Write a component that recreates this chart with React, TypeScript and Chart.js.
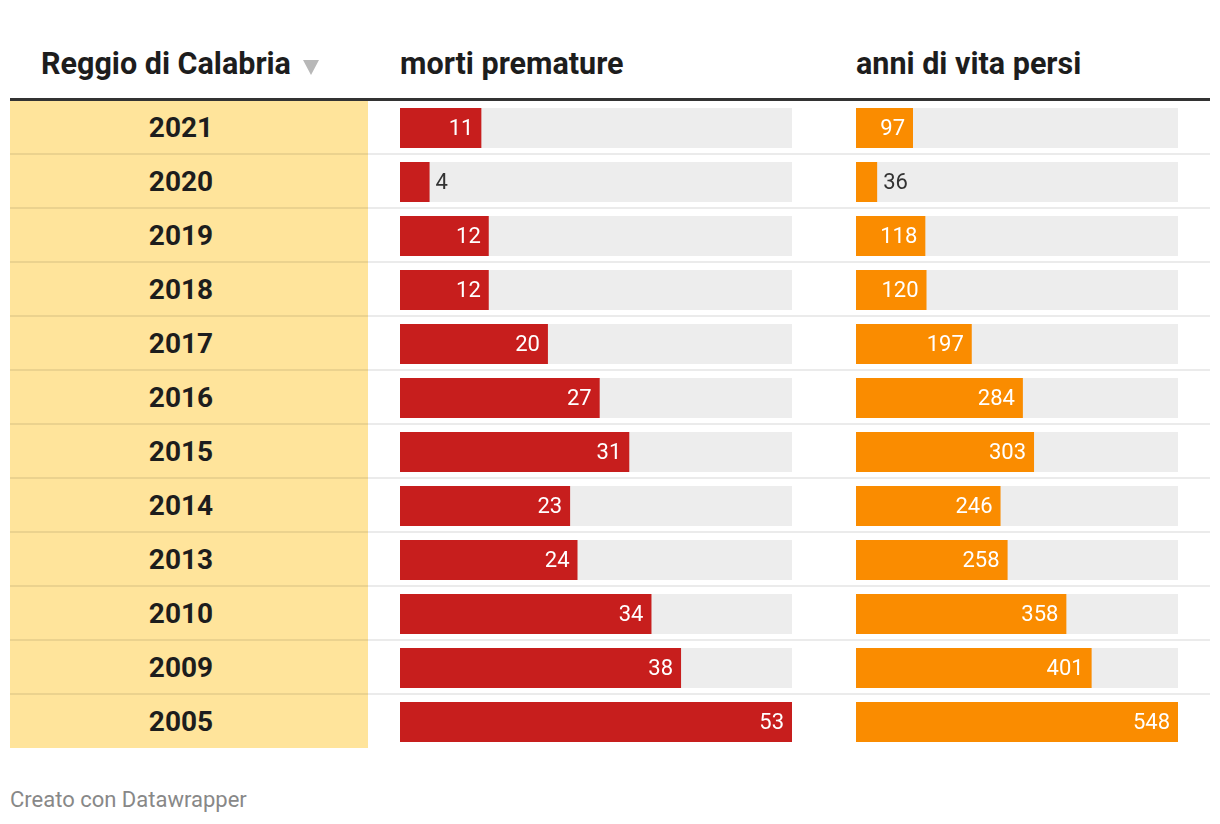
import React, { useEffect, useRef } from "react";
import { Chart, registerables } from "chart.js";

Chart.register(...registerables);

const years = ["2021", "2020", "2019", "2018", "2017", "2016", "2015", "2014", "2013", "2010", "2009", "2005"];
const mortiPremature = [11, 4, 12, 12, 20, 27, 31, 23, 24, 34, 38, 53];
const anniVitaPersi = [97, 36, 118, 120, 197, 284, 303, 246, 258, 358, 401, 548];

const headerRegion = "Reggio di Calabria";
const headerMorti = "morti premature";
const headerAnni = "anni di vita persi";
const footerText = "Creato con Datawrapper";

const RED = "#c71e1d";
const ORANGE = "#fa8c00";
const TRACK = "#ededed";
const FONT = "Roboto, 'Noto Sans', sans-serif";

const ROW_H = 54;
const TABLE_TOP = 101;

const labelPlugin = {
  id: "valueLabels",
  afterDatasetsDraw(chart: any) {
    const ctx = chart.ctx;
    const meta = chart.getDatasetMeta(1);
    const data = chart.data.datasets[1].data as number[];
    const left = chart.chartArea.left;
    ctx.save();
    ctx.font = `22px ${FONT}`;
    ctx.textBaseline = "middle";
    meta.data.forEach((bar: any, i: number) => {
      const txt = String(data[i]);
      const w = ctx.measureText(txt).width;
      const barW = bar.x - left;
      if (barW >= w + 20) {
        ctx.fillStyle = "#ffffff";
        ctx.textAlign = "right";
        ctx.fillText(txt, bar.x - 8, bar.y + 1);
      } else {
        ctx.fillStyle = "#333333";
        ctx.textAlign = "left";
        ctx.fillText(txt, bar.x + 6, bar.y + 1);
      }
    });
    ctx.restore();
  },
};

function BarColumn({ values, color, width, left }: { values: number[]; color: string; width: number; left: number }) {
  const ref = useRef<HTMLCanvasElement>(null);
  useEffect(() => {
    if (!ref.current) return;
    const max = Math.max(...values);
    const chart = new Chart(ref.current, {
      type: "bar",
      data: {
        labels: years,
        datasets: [
          {
            data: years.map(() => max),
            backgroundColor: TRACK,
            grouped: false,
            order: 2,
            barPercentage: 40 / 54,
            categoryPercentage: 1,
          } as any,
          {
            data: values,
            backgroundColor: color,
            grouped: false,
            order: 1,
            barPercentage: 40 / 54,
            categoryPercentage: 1,
          } as any,
        ],
      },
      options: {
        indexAxis: "y",
        responsive: false,
        maintainAspectRatio: false,
        animation: false,
        devicePixelRatio: 1,
        layout: { padding: 0 },
        events: [],
        scales: {
          x: { display: false, min: 0, max },
          y: { display: false },
        },
        plugins: { legend: { display: false }, tooltip: { enabled: false } },
      },
      plugins: [labelPlugin],
    });
    return () => chart.destroy();
  }, []);
  return (
    <canvas
      ref={ref}
      width={width}
      height={ROW_H * years.length}
      style={{ position: "absolute", left, top: TABLE_TOP, width, height: ROW_H * years.length }}
    />
  );
}

export default function App() {
  const headerStyle: React.CSSProperties = {
    position: "absolute",
    top: 44,
    height: 40,
    lineHeight: "40px",
    fontFamily: FONT,
    fontWeight: 700,
    fontSize: 30.5,
    color: "#1d1d1d",
    whiteSpace: "nowrap",
  };
  return (
    <div style={{ position: "absolute", left: 0, top: 0, width: 1220, height: 824, background: "#fff", overflow: "hidden" }}>
      <div style={{ ...headerStyle, left: 41 }}>
        {headerRegion}
        <span
          style={{
            display: "inline-block",
            width: 0,
            height: 0,
            marginLeft: 12,
            borderLeft: "8px solid transparent",
            borderRight: "8px solid transparent",
            borderTop: "15px solid #b8b8b8",
            verticalAlign: "-1px",
          }}
        />
      </div>
      <div style={{ ...headerStyle, left: 400 }}>{headerMorti}</div>
      <div style={{ ...headerStyle, left: 856 }}>{headerAnni}</div>
      <div style={{ position: "absolute", left: 10, top: 98, width: 1200, height: 3, background: "#333" }} />
      <div style={{ position: "absolute", left: 10, top: TABLE_TOP, width: 358, height: ROW_H * years.length - 1, background: "#ffe49b" }} />
      {years.map((y, i) => (
        <div
          key={y}
          style={{
            position: "absolute",
            left: 10,
            width: 342,
            top: TABLE_TOP + i * ROW_H,
            height: ROW_H,
            lineHeight: ROW_H + "px",
            textAlign: "center",
            fontFamily: FONT,
            fontWeight: 700,
            fontSize: 28,
            color: "#1d1d1d",
          }}
        >
          {y}
        </div>
      ))}
      {years.slice(0, -1).map((y, i) => (
        <div
          key={"sep" + y}
          style={{
            position: "absolute",
            left: 10,
            width: 1200,
            top: TABLE_TOP + (i + 1) * ROW_H - 2,
            height: 2,
            background: "rgba(0,0,0,0.08)",
          }}
        />
      ))}
      <BarColumn values={mortiPremature} color={RED} width={392} left={400} />
      <BarColumn values={anniVitaPersi} color={ORANGE} width={322} left={856} />
      <div
        style={{
          position: "absolute",
          left: 10,
          top: 786,
          height: 28,
          lineHeight: "28px",
          fontFamily: FONT,
          fontSize: 22,
          color: "#888",
        }}
      >
        {footerText}
      </div>
    </div>
  );
}
